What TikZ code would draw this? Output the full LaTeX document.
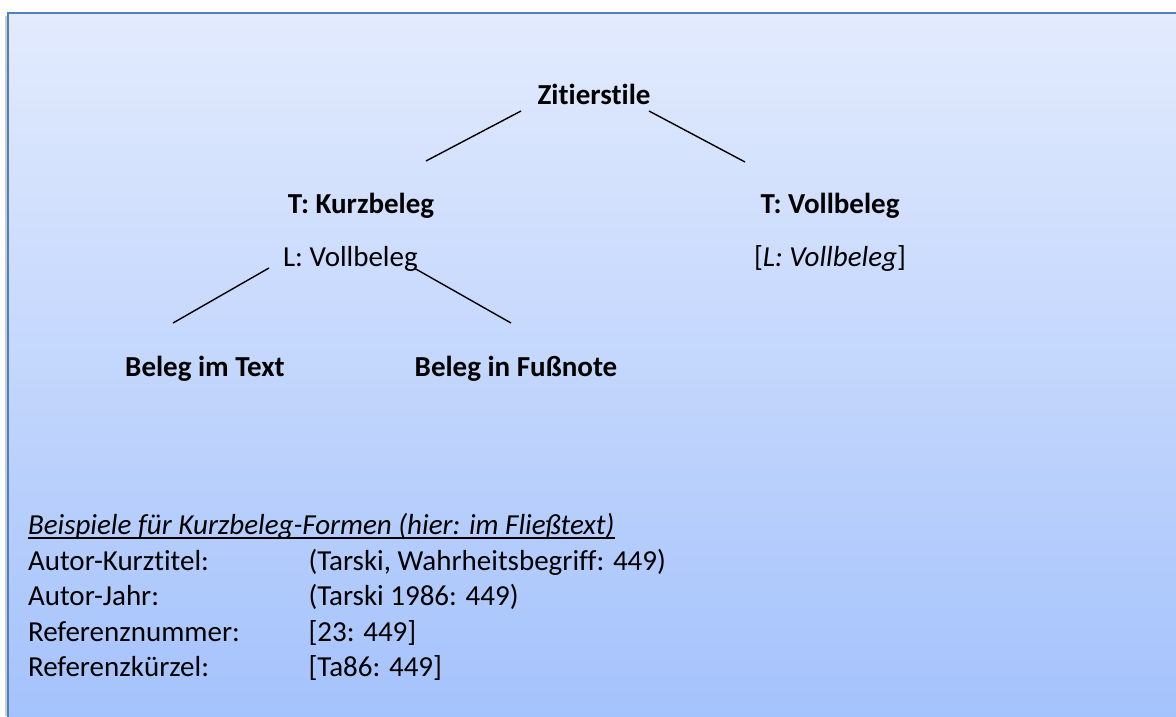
\documentclass[tikz,border=0pt]{standalone}
\usepackage{fontspec}
\setmainfont{Carlito}[Ligatures=NoCommon]
\definecolor{boxline}{RGB}{79,129,189}
\definecolor{gradtop}{RGB}{227,235,253}
\definecolor{gradbot}{RGB}{164,194,252}
\begin{document}
\begin{tikzpicture}[x=1pt,y=-1pt,
  txt/.style={inner sep=0pt, outer sep=0pt, font=\fontsize{29}{35.4}\selectfont},
  hd/.style={txt, font=\fontsize{29}{35.4}\selectfont\bfseries},
  conn/.style={line width=1.4pt, black}]
\useasboundingbox (0,0) rectangle (1176,716);
\fill[white] (0,0) rectangle (1176,716);
\fill[black!20] (4.5,16) rectangle (8,716);
\shade[top color=gradtop, bottom color=gradbot] (8,13) rectangle (1180,720);
\draw[boxline, line width=2.5pt] (8,720) -- (8,13) -- (1180,13);

% tree
\node[hd, anchor=base] (zit) at (594,104) {Zitierstile};
\node[hd, anchor=base] (tkurz) at (361,213) {T: Kurzbeleg};
\node[txt, anchor=base west] (lvoll) at (283,266) {L: Vollbeleg};
\node[hd, anchor=base] (tvoll) at (830,213) {T: Vollbeleg};
\node[txt, anchor=base] (lvollb) at (830,266) {[\textit{L: Vollbeleg}]};
\node[hd, anchor=base] (bit) at (205,376) {Beleg im Text};
\node[hd, anchor=base] (bif) at (516,376) {Beleg in Fußnote};

\coordinate (a1) at (521,111); \coordinate (a2) at (426,161);
\coordinate (b1) at (649,111); \coordinate (b2) at (745,162);
\coordinate (c1) at (269,268); \coordinate (c2) at (173,323);
\coordinate (d1) at (414,268); \coordinate (d2) at (511,323);
\draw[conn] (a1) -- (a2);
\draw[conn] (b1) -- (b2);
\draw[conn] (c1) -- (c2);
\draw[conn] (d1) -- (d2);

% examples
\node[txt, anchor=base west] (bsp) at (28,534) {\itshape Beispiele für Kurzbeleg-Formen (hier: im Fließtext)};
\draw[line width=1.4pt] ([yshift=-4pt]bsp.base west) -- ([yshift=-4pt]bsp.base east);
\node[txt, anchor=base west] (r1) at (28,570) {Autor-Kurztitel:};
\node[txt, anchor=base west] (r2) at (28,605.5) {Autor-Jahr:};
\node[txt, anchor=base west] (r3) at (28,641) {Referenznummer:};
\node[txt, anchor=base west] (r4) at (28,676.5) {Referenzkürzel:};
\node[txt, anchor=base west] (v1) at (308.5,570) {(Tarski, Wahrheitsbegriff: 449)};
\node[txt, anchor=base west] (v2) at (308.5,605.5) {(Tarski 1986: 449)};
\node[txt, anchor=base west] (v3) at (308.5,641) {[23: 449]};
\node[txt, anchor=base west] (v4) at (308.5,676.5) {[Ta86: 449]};
\end{tikzpicture}
\end{document}
